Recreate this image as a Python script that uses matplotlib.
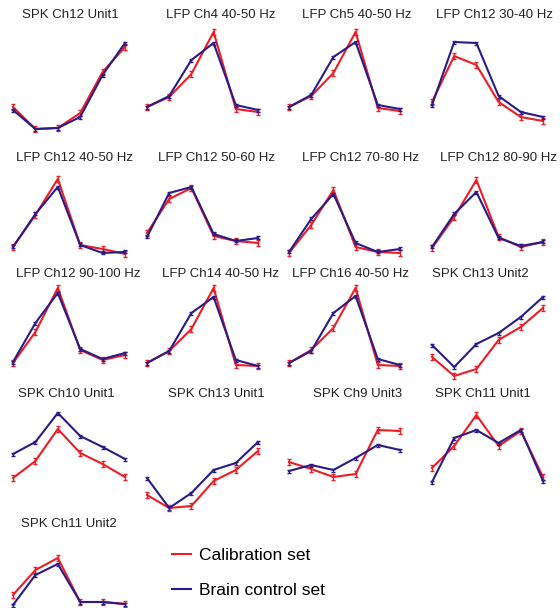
import matplotlib
matplotlib.use("Agg")
import matplotlib.pyplot as plt
from matplotlib.lines import Line2D

plt.rcParams['font.family'] = ['Liberation Sans', 'DejaVu Sans']

# ---------------- data ----------------
titles = [
    "SPK Ch12 Unit1", "LFP Ch4 40-50 Hz", "LFP Ch5 40-50 Hz", "LFP Ch12 30-40 Hz",
    "LFP Ch12 40-50 Hz", "LFP Ch12 50-60 Hz", "LFP Ch12 70-80 Hz", "LFP Ch12 80-90 Hz",
    "LFP Ch12 90-100 Hz", "LFP Ch14 40-50 Hz", "LFP Ch16 40-50 Hz", "SPK Ch13 Unit2",
    "SPK Ch10 Unit1", "SPK Ch13 Unit1", "SPK Ch9 Unit3", "SPK Ch11 Unit1",
    "SPK Ch11 Unit2",
]
calibration = [
    [28, 6, 7, 22, 63, 88],
    [28, 38, 61, 103, 26, 23],
    [28, 39, 62, 103, 27, 24],
    [33, 79, 70, 33, 18, 14],
    [13, 45, 81, 15, 11, 6],
    [27, 61, 72, 24, 19, 17],
    [7, 35, 70, 13, 8, 7],
    [12, 43, 80, 23, 13, 18],
    [17, 48, 92, 30, 20, 25],
    [17, 29, 51, 92, 15, 14],
    [17, 30, 52, 92, 15, 14],
    [23, 4, 11, 40, 53, 72],
    [34, 51, 83, 59, 48, 35],
    [17, 4, 6, 31, 42, 61],
    [50, 43, 35, 38, 82, 81],
    [44, 66, 97, 66, 81, 35],
    [13, 38, 50, 6, 6, 4],
]
brain_control = [
    [25, 6, 7, 18, 60, 92],
    [28, 39, 75, 92, 30, 25],
    [28, 40, 78, 93, 30, 26],
    [30, 93, 92, 39, 23, 18],
    [13, 46, 73, 15, 7, 8],
    [23, 67, 73, 26, 19, 22],
    [8, 41, 66, 17, 8, 11],
    [13, 46, 68, 22, 14, 18],
    [18, 57, 87, 31, 21, 27],
    [17, 29, 67, 83, 20, 14],
    [17, 29, 67, 84, 21, 15],
    [35, 13, 36, 47, 63, 83],
    [58, 70, 99, 76, 65, 53],
    [34, 4, 19, 42, 49, 70],
    [41, 47, 42, 54, 67, 62],
    [30, 74, 82, 69, 82, 31],
    [3, 33, 44, 6, 6, 4],
]
err_calibration = 3.0
err_brain_control = 1.5
legend_labels = ["Calibration set", "Brain control set"]

# ---------------- layout ----------------
W, H = 560, 608
fig = plt.figure(figsize=(W / 100, H / 100), dpi=100)

col_left = [13, 147, 289, 432]
col_right = [125, 258, 400, 543]
row_top = [25, 170, 283, 405, 545]
row_bottom = [135, 260, 380, 512, 608]
title_y = [15, 158, 274, 394, 524]
title_x = [70, 221, 357, 495,
           74, 217, 361, 498,
           78, 221, 350, 480,
           66, 216, 358, 483,
           69]

RED = '#ee1c25'
BLUE = '#2a1b86'

for i, title in enumerate(titles):
    r, c = divmod(i, 4)
    l, rr = col_left[c], col_right[c]
    t, b = row_top[r], row_bottom[r]
    ax = fig.add_axes([l / W, 1 - b / H, (rr - l) / W, (b - t) / H])
    x = list(range(len(calibration[i])))
    ax.errorbar(x, calibration[i], yerr=err_calibration, color=RED, lw=1.5,
                capsize=1.5, elinewidth=1.0, capthick=1.0, clip_on=False, zorder=2)
    ax.errorbar(x, brain_control[i], yerr=err_brain_control, color=BLUE, lw=1.5,
                capsize=1.2, elinewidth=1.0, capthick=1.0, clip_on=False, zorder=3)
    ax.set_xlim(0, 5)
    ax.set_ylim(0, b - t)
    ax.axis('off')
    fig.text(title_x[i] / W, 1 - title_y[r] / H, title, ha='center', va='center',
             fontsize=9.5, color='#222222')

handles = [Line2D([], [], color=RED, lw=1.5), Line2D([], [], color=BLUE, lw=1.5)]
fig.legend(handles, legend_labels, loc='upper left',
           bbox_to_anchor=(172 / W, 1 - 548 / H), frameon=False,
           fontsize=12.5, handlelength=1.1, handletextpad=0.45,
           labelspacing=1.12, borderpad=0, borderaxespad=0)

fig.savefig('out.png', dpi=100)
